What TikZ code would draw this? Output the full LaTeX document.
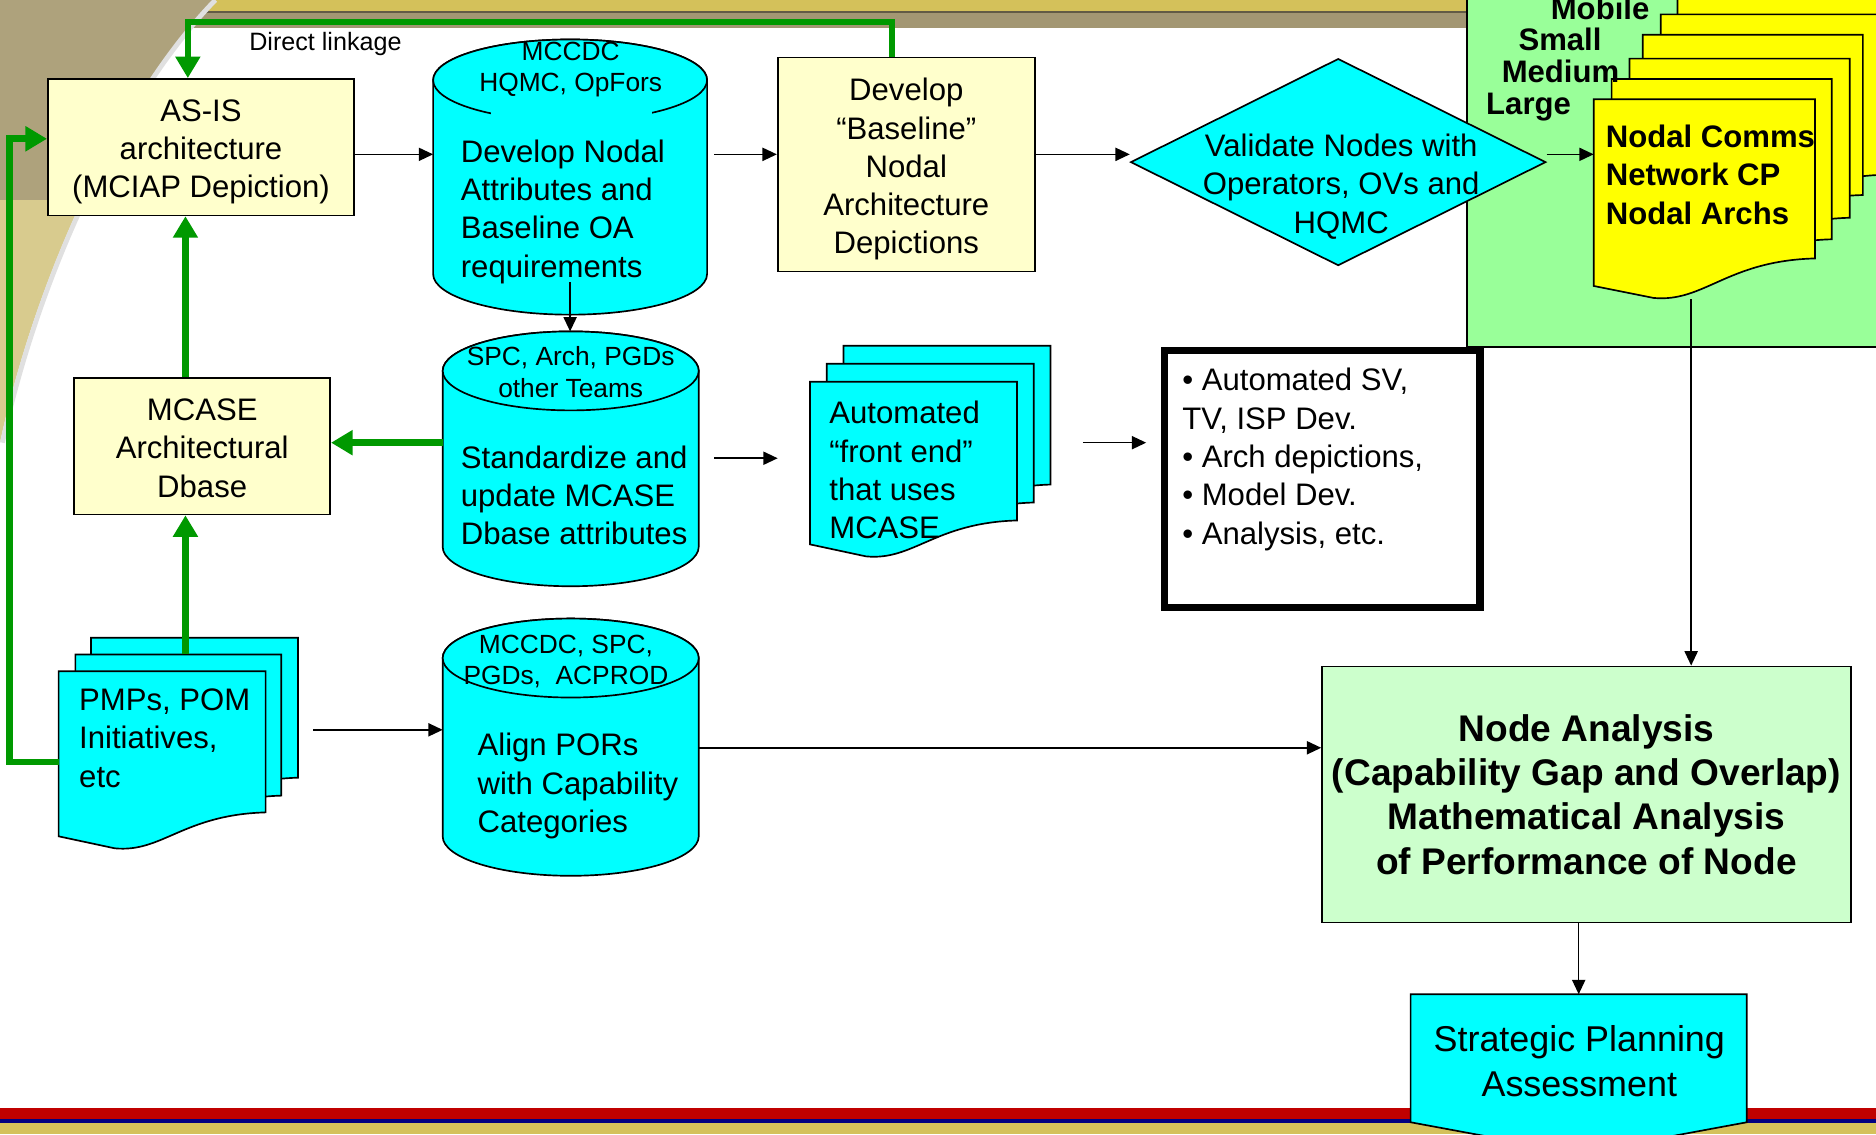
\documentclass[tikz,border=0pt]{standalone}
\usepackage{fontspec}
\setmainfont{Liberation Sans}
\usetikzlibrary{arrows.meta,shapes.geometric}
\definecolor{cyanfill}{HTML}{00FFFF}
\definecolor{paleyel}{HTML}{FFFFCC}
\definecolor{docyel}{HTML}{FFFF00}
\definecolor{zonegreen}{HTML}{99FF99}
\definecolor{mintgreen}{HTML}{CCFFCC}
\definecolor{linkgreen}{HTML}{009900}
\definecolor{bandgold}{HTML}{D4C15A}
\definecolor{bandolive}{HTML}{A39773}
\definecolor{swoosh}{HTML}{AEA27C}
\definecolor{swooshlt}{HTML}{D8CB8E}
\definecolor{bandred}{HTML}{C00000}
\definecolor{bandblue}{HTML}{000080}
\tikzset{
  box/.style={draw=black, line width=1.4pt, fill=paleyel, align=center, inner sep=0pt, font=\fontsize{26}{32}\selectfont},
  cyl/.style={draw=black, line width=1.4pt, fill=cyanfill},
  paper/.style={draw=black, line width=1.4pt},
  anch/.style={inner sep=0pt, outer sep=0pt},
  txt/.style={inner sep=0pt, align=left, font=\fontsize{26}{32}\selectfont},
  tag/.style={inner sep=0pt, align=center, font=\fontsize{22}{26}\selectfont},
  sizelab/.style={inner sep=0pt, anchor=base west, font=\bfseries\fontsize{26}{32}\selectfont},
  arr/.style={draw=black, line width=1.3pt, -{Triangle[length=12pt,width=11pt]}},
  link/.style={draw=linkgreen, line width=5.5pt, -{Triangle[length=18pt,width=20pt]}}
}

\begin{document}
\begin{tikzpicture}[x=1pt,y=1pt]
  \def\dbcyl#1#2#3#4#5{% centre x, x radius, top, y radius, foot of the sides
    \filldraw[cyl] ({#1-#2},{-#3-#4}) -- ({#1-#2},-#5)
      arc[start angle=180, end angle=360, x radius=#2pt, y radius=#4pt]
      -- ({#1+#2},{-#3-#4})
      arc[start angle=0, end angle=180, x radius=#2pt, y radius=#4pt] -- cycle;
    \draw[cyl] (#1,{-#3-#4}) ellipse[x radius=#2pt, y radius=#4pt];}
  \def\docpage#1#2#3#4#5#6{% fill, left, right, top, right foot, left foot
    \filldraw[paper, fill=#1] (#2,{-(#4)}) -- (#3,{-(#4)}) -- (#3,-#5)
      .. controls ({#2+0.6*(#3-#2)},{-#5-2}) and ({#2+0.5*(#3-#2)},{-#6-14}) .. ({#2+0.27*(#3-#2)},{-#6-10})
      -- (#2,-#6) -- cycle;}
  \useasboundingbox (0,0) rectangle (1568,-948);

  % slide template
  \fill[white] (0,0) rectangle (1568,-948);
  \fill[bandgold] (0,0) rectangle (1568,-10);
  \fill[bandolive] (0,-10) rectangle (1568,-23);
  \draw[bandolive!60!black, line width=1pt] (0,-10) -- (1568,-10);
  \fill[swooshlt] (0,0) -- (178,0) .. controls (100,-80) and (30,-230) .. (0,-370) -- cycle;
  \begin{scope}
    \clip (0,0) -- (178,0) .. controls (100,-80) and (30,-230) .. (0,-370) -- cycle;
    \fill[swoosh] (0,0) rectangle (180,-167);
  \end{scope}
  \draw[black!12, line width=4pt] (180,0) .. controls (102,-80) and (32,-230) .. (2,-370);
  \fill[bandred] (0,-926) rectangle (1568,-935);
  \fill[bandblue] (0,-935) rectangle (1568,-939);
  \fill[bandgold] (0,-939) rectangle (1568,-948);

  % nodal papers
  \filldraw[fill=zonegreen, draw=black, line width=1.2pt] (1226,3) rectangle (1575,-290);
  \docpage{docyel}{1402}{1590}{-3}{128}{150}
  \docpage{docyel}{1388}{1576}{12}{146}{168}
  \docpage{docyel}{1373}{1557}{29}{163}{185}
  \docpage{docyel}{1362}{1546}{49}{182}{204}
  \docpage{docyel}{1347}{1531}{66}{200}{222}
  \docpage{docyel}{1332}{1517}{83}{216}{239}
  \node[anch, minimum width=185pt, minimum height=167pt] (ydoc) at (1424.5,-166.5) {};
  \node[sizelab] (mobile) at (1296,-16) {Mobile};
  \node[sizelab] (small) at (1269,-42) {Small};
  \node[sizelab] (medium) at (1255,-69) {Medium};
  \node[sizelab] (large) at (1242,-96) {Large};
  \node[txt, anchor=west, font=\bfseries\fontsize{26}{32}\selectfont] (ydoctxt) at (1342,-146) {Nodal Comms\\Network CP\\Nodal Archs};

  % boxes
  \node[box, minimum width=256pt, minimum height=114pt] (asis) at (168,-123) {};
  \node[txt, align=center] (asistxt) at ([yshift=-4pt]asis.center) {AS-IS\\architecture\\(MCIAP Depiction)};
  \node[box, minimum width=214pt, minimum height=114pt] (mcase) at (169,-373) {};
  \node[txt, align=center] (mcasetxt) at ([yshift=-1.5pt]mcase.center) {MCASE\\Architectural\\Dbase};
  \node[box, minimum width=215pt, minimum height=179pt] (devbase) at (757.5,-137.5) {};
  \node[txt, align=center] (devbasetxt) at ([yshift=-4pt]devbase.center) {Develop\\“Baseline”\\Nodal\\Architecture\\Depictions};

  % data stores
  \dbcyl{476.5}{114.5}{33}{34}{229}
  \fill[cyanfill] (410,-92) rectangle (545,-104);
  \node[anch, minimum width=229pt, minimum height=169pt] (cylA) at (476.5,-151.5) {};
  \node[tag] (cylAtag) at (477,-58) {MCCDC\\HQMC, OpFors};
  \node[txt, anchor=west] (cylAtxt) at (385,-177) {Develop Nodal\\Attributes and\\Baseline OA\\requirements};
  \dbcyl{477}{107}{277}{33}{457}
  \node[anch, minimum width=214pt, minimum height=180pt] (cylB) at (477,-367) {};
  \node[tag] (cylBtag) at (477,-311) {SPC, Arch, PGDs\\other Teams};
  \node[txt, anchor=west] (cylBtxt) at (385,-414) {Standardize and\\update MCASE\\Dbase attributes};
  \dbcyl{477}{107}{517}{33}{699}
  \node[anch, minimum width=214pt, minimum height=182pt] (cylC) at (477,-608) {};
  \node[tag] (cylCtag) at (473,-553) {MCCDC, SPC,\\PGDs,\ \ ACPROD};
  \node[txt, anchor=west] (cylCtxt) at (399,-657) {Align PORs\\with Capability\\Categories};

  % front end papers
  \docpage{cyanfill}{705}{878}{289}{405}{425}
  \docpage{cyanfill}{691}{864}{304}{420}{440}
  \docpage{cyanfill}{677}{850}{319}{435}{455}
  \node[anch, minimum width=173pt, minimum height=136pt] (adoc) at (763.5,-387) {};
  \node[txt, anchor=west] (adoctxt) at (693,-393) {Automated\\“front end”\\that uses\\MCASE};

  \node[draw=black, line width=6pt, fill=white, minimum width=264pt, minimum height=215pt] (bullets) at (1105,-400.5) {};
  \node[txt, anchor=west] (bullettxt) at (988,-384) {• Automated SV,\\TV, ISP Dev.\\• Arch depictions,\\• Model Dev.\\• Analysis, etc.};

  % PMP papers
  \docpage{cyanfill}{76}{249}{533}{650}{670}
  \docpage{cyanfill}{63}{235}{547}{665}{685}
  \docpage{cyanfill}{49}{222}{561}{679}{699}
  \node[anch, minimum width=173pt, minimum height=138pt] (pmps) at (135.5,-630) {};
  \node[anch, minimum width=172pt, minimum height=138pt] (pmps2) at (149,-616) {};
  \node[txt, anchor=west] (pmpstxt) at (66,-617) {PMPs, POM\\Initiatives,\\etc};

  \node[diamond, draw=black, line width=1.4pt, fill=cyanfill, minimum width=347pt, minimum height=173pt, inner sep=0pt] (valid) at (1118.5,-135.5) {};
  \node[txt, align=center] (validtxt) at (1121,-156) {Validate Nodes with\\Operators, OVs and\\HQMC};

  \node[box, fill=mintgreen, minimum width=442pt, minimum height=214pt, font=\bfseries\fontsize{31}{37}\selectfont] (nat) at (1326,-664) {Node Analysis\\(Capability Gap and Overlap)\\Mathematical Analysis\\of Performance of Node};

  \filldraw[cyl] (1179,-831) -- (1460,-831) -- (1460,-938) -- (1319.5,-964) -- (1179,-938) -- cycle;
  \node[anch, minimum width=281pt, minimum height=107pt] (strat) at (1319.5,-884.5) {};
  \node[txt, align=center, font=\fontsize{30}{38}\selectfont] (strattxt) at (1320,-887) {Strategic Planning\\Assessment};

  % flow
  \coordinate (rowA) at (0,-129);
  \coordinate (rowB) at (0,-383);
  \coordinate (rowC) at (0,-370);
  \coordinate (rowD) at (0,-610);
  \coordinate (rowE) at (0,-625);
  \coordinate (rowF) at (0,-637);
  \draw[arr] (asis.east |- rowA) -- (cylA.west |- rowA);
  \draw[arr, shorten <=6pt] (cylA.east |- rowA) -- (devbase.west |- rowA);
  \draw[arr] (devbase.east |- rowA) -- (valid.west |- rowA);
  \draw[arr] (valid.east |- rowA) -- (ydoc.west |- rowA);
  \draw[arr] (cylA.south) -- (cylA.south |- cylB.north);
  \draw[arr, shorten <=13pt, shorten >=27pt] (cylB.east |- rowB) -- (adoc.west |- rowB);
  \draw[arr, shorten <=55pt, shorten >=12pt] (adoc.east |- rowC) -- (bullets.west |- rowC);
  \draw[arr, shorten <=40pt] (pmps.east |- rowD) -- (cylC.west |- rowD);
  \draw[arr] (cylC.east |- rowE) -- (nat.west |- rowE);
  \draw[arr] ([xshift=-11pt]ydoc.south) -- ([xshift=-11pt]ydoc.south |- nat.north);
  \draw[arr] (strat.north |- nat.south) -- (strat.north);

  % green links
  \draw[link] ([xshift=-12pt]devbase.north) -- ++(0,29) -| ([xshift=-11pt]asis.north);
  \node[anch, font=\fontsize{21}{25}\selectfont] (linklabel) at (272,-37) {Direct linkage};
  \draw[link] ([xshift=-14pt]mcase.north) -- ([xshift=-14pt]mcase.north |- asis.south);
  \draw[link] (cylB.west |- rowC) -- (mcase.east |- rowC);
  \draw[link] ([xshift=-14pt]mcase.south |- pmps2.north) -- ([xshift=-14pt]mcase.south);
  \draw[link] (pmps.west |- rowF) -- ++(-41,0) |- ([yshift=7pt]asis.west);
\end{tikzpicture}
\end{document}
